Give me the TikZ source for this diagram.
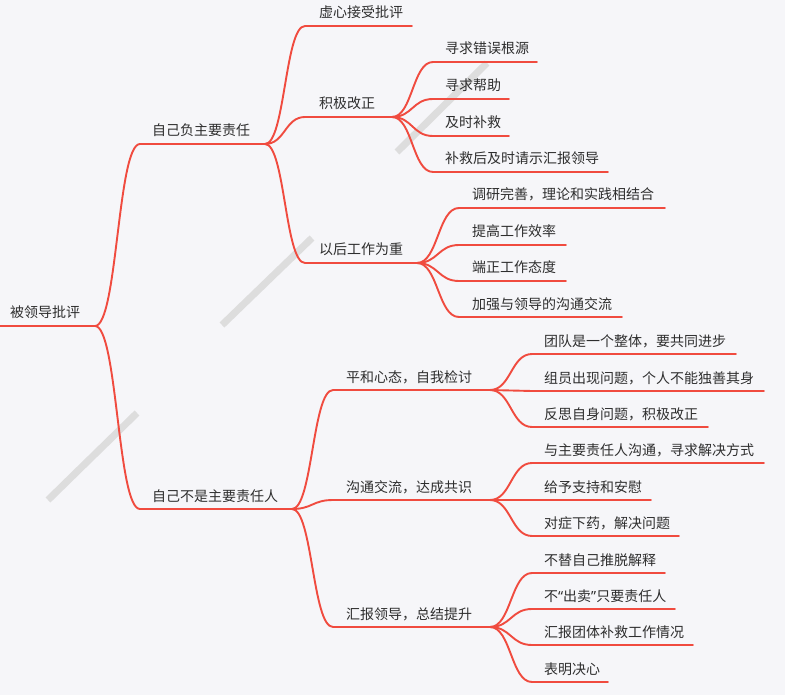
\documentclass[tikz,border=0pt]{standalone}
\usepackage{fontspec}
\usetikzlibrary{calc}
\setmainfont{Noto Sans CJK SC}
\newfontfamily\qfont{Noto Sans}
\definecolor{bgc}{HTML}{F6F6F9}
\definecolor{brc}{HTML}{F04B3F}
\definecolor{txc}{HTML}{2E2E2E}
\definecolor{wmc}{HTML}{DDDDDD}
\tikzset{
  lbl/.style={anchor=base west, inner sep=0pt, text=txc, font=\fontsize{14}{16}\selectfont},
  branch/.style={draw=brc, line width=1.9pt, line cap=round, line join=round},
  wmark/.style={draw=wmc, line width=7pt}
}
\newcommand\mmtopic[6]{% name, xL, y, xR, text x, text
  \coordinate (#1L) at (#2,#3);
  \coordinate (#1R) at (#4,#3);
  \node[lbl] (#1) at (#5,#3-8) {#6};}
\newcommand\mmconn[2]{\draw[branch] (#1R) .. controls ($(#1R)!0.5!(#1R -| #2L)$) and ($(#2L)!0.5!(#2L -| #1R)$) .. (#2L) -- (#2R);}
\begin{document}
\begin{tikzpicture}[x=1pt,y=-1pt]
\fill[bgc] (0,0) rectangle (785,695);
\useasboundingbox (0,0) rectangle (785,695);
% watermark strokes
\coordinate (w1a) at (397,152); \coordinate (w1b) at (487,63);
\coordinate (w2a) at (222,325); \coordinate (w2b) at (312,238);
\coordinate (w3a) at (48,500);  \coordinate (w3b) at (137,413);
\draw[wmark] (w1a) -- (w1b);
\draw[wmark] (w2a) -- (w2b);
\draw[wmark] (w3a) -- (w3b);
% topics
\mmtopic{R}{0}{326}{95}{10}{被领导批评}
\mmtopic{A}{140}{144}{265}{152}{自己负主要责任}
\mmtopic{AA}{305}{26}{412}{319}{虚心接受批评}
\mmtopic{AB}{305}{117}{392}{319}{积极改正}
\mmtopic{ABa}{433}{62}{537}{445}{寻求错误根源}
\mmtopic{ABb}{433}{99}{509}{445}{寻求帮助}
\mmtopic{ABc}{433}{136}{509}{445}{及时补救}
\mmtopic{ABd}{433}{172}{608}{445}{补救后及时请示汇报领导}
\mmtopic{AC}{305}{263}{417}{319}{以后工作为重}
\mmtopic{ACa}{459}{208}{665}{472}{调研完善，理论和实践相结合}
\mmtopic{ACb}{459}{245}{566}{472}{提高工作效率}
\mmtopic{ACc}{459}{281}{566}{472}{端正工作态度}
\mmtopic{ACd}{459}{317}{622}{472}{加强与领导的沟通交流}
\mmtopic{B}{140}{509}{292}{152}{自己不是主要责任人}
\mmtopic{BA}{333}{390}{490}{346}{平和心态，自我检讨}
\mmtopic{BAa}{532}{354}{736}{544}{团队是一个整体，要共同进步}
\mmtopic{BAb}{532}{391}{764}{544}{组员出现问题，个人不能独善其身}
\mmtopic{BAc}{532}{427}{708}{544}{反思自身问题，积极改正}
\mmtopic{BB}{333}{500}{490}{346}{沟通交流，达成共识}
\mmtopic{BBa}{532}{463}{764}{544}{与主要责任人沟通，寻求解决方式}
\mmtopic{BBb}{532}{500}{651}{544}{给予支持和安慰}
\mmtopic{BBc}{532}{536}{679}{544}{对症下药，解决问题}
\mmtopic{BC}{333}{627}{490}{346}{汇报领导，总结提升}
\mmtopic{BCa}{532}{573}{665}{544}{不替自己推脱解释}
\mmtopic{BCb}{532}{609}{675}{544}{不{\qfont “}出卖{\qfont ”}只要责任人}
\mmtopic{BCc}{532}{645}{693}{544}{汇报团体补救工作情况}
\mmtopic{BCd}{532}{682}{608}{544}{表明决心}
% connectors
\draw[branch] (RL) -- (RR);
\mmconn{R}{A}
\mmconn{R}{B}
\mmconn{A}{AA}
\mmconn{A}{AB}
\mmconn{A}{AC}
\mmconn{AB}{ABa}
\mmconn{AB}{ABb}
\mmconn{AB}{ABc}
\mmconn{AB}{ABd}
\mmconn{AC}{ACa}
\mmconn{AC}{ACb}
\mmconn{AC}{ACc}
\mmconn{AC}{ACd}
\mmconn{B}{BA}
\mmconn{B}{BB}
\mmconn{B}{BC}
\mmconn{BA}{BAa}
\mmconn{BA}{BAb}
\mmconn{BA}{BAc}
\mmconn{BB}{BBa}
\mmconn{BB}{BBb}
\mmconn{BB}{BBc}
\mmconn{BC}{BCa}
\mmconn{BC}{BCb}
\mmconn{BC}{BCc}
\mmconn{BC}{BCd}
\end{tikzpicture}
\end{document}
